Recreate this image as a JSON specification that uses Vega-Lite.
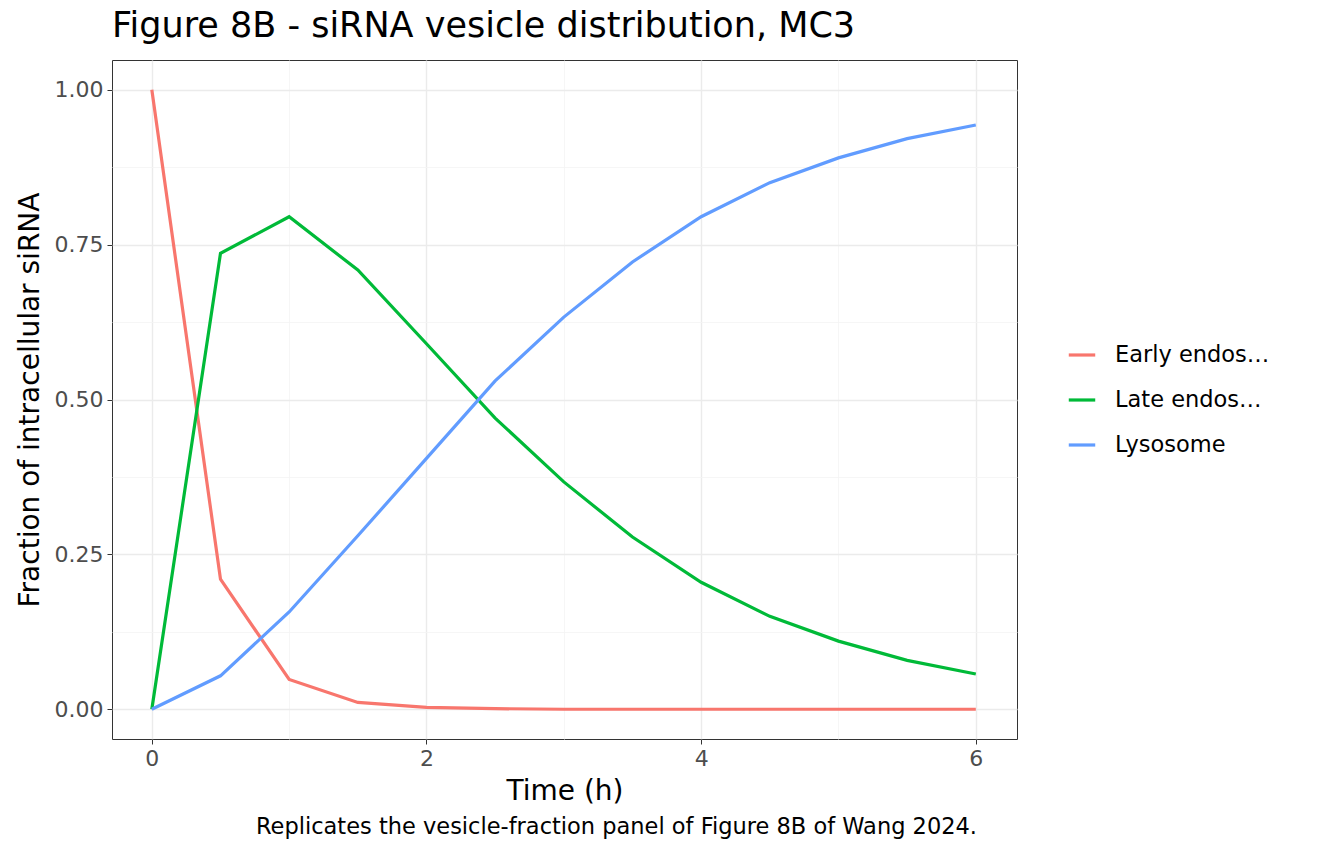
{
  "$schema": "https://vega.github.io/schema/vega-lite/v6.json",
  "background": "white",
  "padding": {"left": 15, "top": 8, "right": 10, "bottom": 10},
  "config": {
    "font": "DejaVu Sans",
    "view": {"stroke": "#333333", "strokeWidth": 1}
  },
  "title": {"text": "Replicates the vesicle-fraction panel of Figure 8B of Wang 2024.", "orient": "bottom", "anchor": "end", "dx": -293, "fontSize": 22.5, "fontWeight": "normal", "color": "#000000", "offset": 10},
  "vconcat": [
    {
      "width": 905, "height": 679,
      "title": {"text": "Figure 8B - siRNA vesicle distribution, MC3", "anchor": "start", "frame": "group", "fontSize": 35, "fontWeight": "normal", "color": "#000000", "offset": 16},
      "data": {"values": [
        {"t": 0, "s": "Early endosome", "v": 1.0},
        {"t": 0.5, "s": "Early endosome", "v": 0.21},
        {"t": 1, "s": "Early endosome", "v": 0.048},
        {"t": 1.5, "s": "Early endosome", "v": 0.011},
        {"t": 2, "s": "Early endosome", "v": 0.003},
        {"t": 2.5, "s": "Early endosome", "v": 0.001},
        {"t": 3, "s": "Early endosome", "v": 0.0},
        {"t": 3.5, "s": "Early endosome", "v": 0.0},
        {"t": 4, "s": "Early endosome", "v": 0.0},
        {"t": 4.5, "s": "Early endosome", "v": 0.0},
        {"t": 5, "s": "Early endosome", "v": 0.0},
        {"t": 5.5, "s": "Early endosome", "v": 0.0},
        {"t": 6, "s": "Early endosome", "v": 0.0},
        {"t": 0, "s": "Late endosome", "v": 0.0},
        {"t": 0.5, "s": "Late endosome", "v": 0.736},
        {"t": 1, "s": "Late endosome", "v": 0.795},
        {"t": 1.5, "s": "Late endosome", "v": 0.709},
        {"t": 2, "s": "Late endosome", "v": 0.59},
        {"t": 2.5, "s": "Late endosome", "v": 0.47},
        {"t": 3, "s": "Late endosome", "v": 0.367},
        {"t": 3.5, "s": "Late endosome", "v": 0.278},
        {"t": 4, "s": "Late endosome", "v": 0.205},
        {"t": 4.5, "s": "Late endosome", "v": 0.15},
        {"t": 5, "s": "Late endosome", "v": 0.11},
        {"t": 5.5, "s": "Late endosome", "v": 0.079},
        {"t": 6, "s": "Late endosome", "v": 0.057},
        {"t": 0, "s": "Lysosome", "v": 0.0},
        {"t": 0.5, "s": "Lysosome", "v": 0.054},
        {"t": 1, "s": "Lysosome", "v": 0.157},
        {"t": 1.5, "s": "Lysosome", "v": 0.28},
        {"t": 2, "s": "Lysosome", "v": 0.405},
        {"t": 2.5, "s": "Lysosome", "v": 0.53},
        {"t": 3, "s": "Lysosome", "v": 0.633},
        {"t": 3.5, "s": "Lysosome", "v": 0.722},
        {"t": 4, "s": "Lysosome", "v": 0.795},
        {"t": 4.5, "s": "Lysosome", "v": 0.85},
        {"t": 5, "s": "Lysosome", "v": 0.89},
        {"t": 5.5, "s": "Lysosome", "v": 0.921},
        {"t": 6, "s": "Lysosome", "v": 0.943}
      ]},
      "mark": {"type": "line", "strokeWidth": 3.2, "clip": true},
      "encoding": {
        "x": {
          "field": "t", "type": "quantitative", "title": "Time (h)",
          "scale": {"domain": [-0.29, 6.3], "nice": false, "zero": false},
          "axis": {
            "values": [0, 1, 2, 3, 4, 5, 6],
            "labelExpr": "datum.value % 2 == 0 ? datum.label : ''",
            "gridColor": {"condition": {"test": "datum.value % 2 == 0", "value": "#ebebeb"}, "value": "#f4f4f4"},
            "gridWidth": {"condition": {"test": "datum.value % 2 == 0", "value": 1.4}, "value": 0.8},
            "tickOpacity": {"condition": {"test": "datum.value % 2 == 0", "value": 1}, "value": 0},
            "domain": false, "tickColor": "#333333", "tickSize": 5,
            "labelFontSize": 22, "labelColor": "#4d4d4d", "labelPadding": 4,
            "titleFontSize": 28, "titleFontWeight": "normal", "titleColor": "#000000", "titlePadding": 8
          }
        },
        "y": {
          "field": "v", "type": "quantitative", "title": "Fraction of intracellular siRNA",
          "scale": {"domain": [-0.048, 1.048], "nice": false, "zero": false},
          "axis": {
            "values": [0, 0.125, 0.25, 0.375, 0.5, 0.625, 0.75, 0.875, 1],
            "labelExpr": "(datum.value * 4) % 1 == 0 ? format(datum.value, '.2f') : ''",
            "gridColor": {"condition": {"test": "(datum.value * 4) % 1 == 0", "value": "#ebebeb"}, "value": "#f4f4f4"},
            "gridWidth": {"condition": {"test": "(datum.value * 4) % 1 == 0", "value": 1.4}, "value": 0.8},
            "tickOpacity": {"condition": {"test": "(datum.value * 4) % 1 == 0", "value": 1}, "value": 0},
            "domain": false, "tickColor": "#333333", "tickSize": 5,
            "labelFontSize": 22, "labelColor": "#4d4d4d", "labelPadding": 4,
            "titleFontSize": 28, "titleFontWeight": "normal", "titleColor": "#000000", "titlePadding": 10
          }
        },
        "color": {
          "field": "s", "type": "nominal",
          "scale": {"domain": ["Early endosome", "Late endosome", "Lysosome"], "range": ["#F8766D", "#00BA38", "#619CFF"]},
          "legend": {
            "title": null, "orient": "none", "legendX": 955, "legendY": 280,
            "symbolType": "stroke", "symbolStrokeWidth": 3.2, "symbolSize": 700,
            "labelFontSize": 22.5, "labelColor": "#000000", "rowPadding": 18, "labelOffset": 18
          }
        }
      }
    }
  ]
}
